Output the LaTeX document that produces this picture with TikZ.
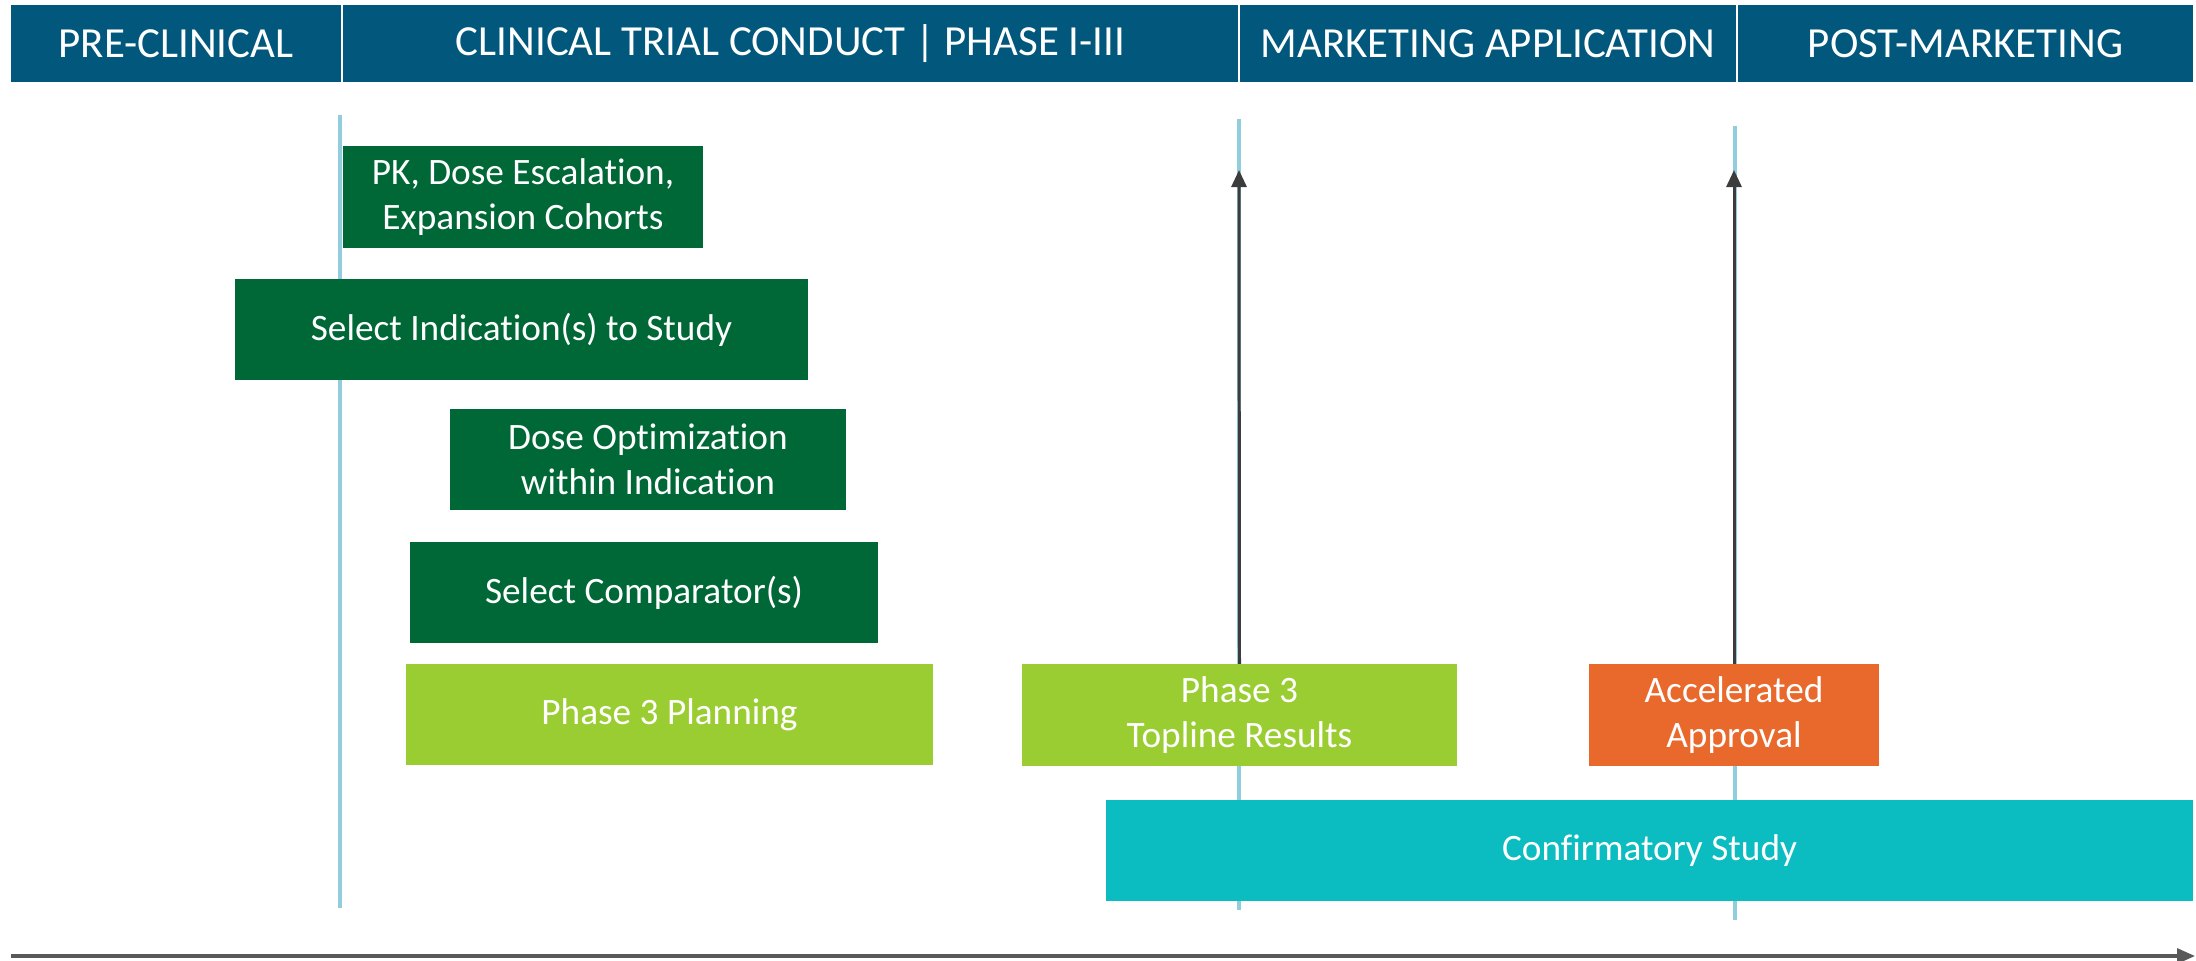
\documentclass[tikz,border=0pt]{standalone}
\usepackage{fontspec}
\setmainfont{Carlito}[Ligatures=NoCommon]
\usetikzlibrary{arrows.meta}

\definecolor{headblue}{RGB}{1,87,124}
\definecolor{darkgreen}{RGB}{0,104,55}
\definecolor{limegreen}{RGB}{154,205,50}
\definecolor{approvalorange}{RGB}{233,105,44}
\definecolor{confirmteal}{RGB}{11,188,193}
\definecolor{lineblue}{RGB}{146,205,221}
\definecolor{arrowgray}{RGB}{60,60,60}
\definecolor{axisgray}{RGB}{89,89,89}

\begin{document}
\begin{tikzpicture}[x=0.01cm,y=-0.01cm,
    head/.style={fill=headblue,inner sep=0pt,outer sep=0pt,text=white,
        font=\fontsize{12.2}{14}\selectfont},
    task/.style={inner sep=0pt,outer sep=0pt,text=white,align=center,
        font=\fontsize{10.6}{12.8}\selectfont},
    phaseline/.style={draw=lineblue,line width=0.9pt},
    uparrow/.style={draw=arrowgray,line width=0.85pt,-{Triangle[length=1.7mm,width=1.5mm]}}]

    \useasboundingbox (0,0) rectangle (2196,960);

    % box from corner (#2,#3) to corner (#4,#5), sizes in px of 0.1mm
    \newcommand{\blk}[7]{%
        \pgfmathsetmacro\cx{(#2+#4)/2}%
        \pgfmathsetmacro\cy{(#3+#5)/2}%
        \pgfmathsetmacro\bw{(#4-#2)/10}%
        \pgfmathsetmacro\bh{(#5-#3)/10}%
        \node[#6,minimum width=\bw mm,minimum height=\bh mm] (#1) at (\cx,\cy) {#7};
    }

    % header
    \blk{pre}{11}{5}{341}{82}{head}{PRE-CLINICAL}
    \blk{clin}{343}{5}{1238}{82}{head}{CLINICAL TRIAL CONDUCT | PHASE I-III}
    \blk{mkt}{1240}{5}{1736}{82}{head}{MARKETING APPLICATION}
    \blk{post}{1738}{5}{2193}{82}{head}{POST-MARKETING}

    % phase boundaries
    \draw[phaseline] (340,115) -- (340,908);
    \draw[phaseline] (1239,119) -- (1239,910);
    \draw[phaseline] (1735,126) -- (1735,920);

    \blk{pk}{343}{146}{703}{248}{task,fill=darkgreen}{PK, Dose Escalation,\\Expansion Cohorts}
    \blk{ind}{235}{279}{808}{380}{task,fill=darkgreen}{Select Indication(s) to Study}
    \blk{dose}{450}{409}{846}{510}{task,fill=darkgreen}{Dose Optimization\\within Indication}
    \blk{comp}{410}{542}{878}{643}{task,fill=darkgreen}{Select Comparator(s)}
    \blk{plan}{406}{664}{933}{765}{task,fill=limegreen}{Phase 3 Planning}
    \blk{topline}{1022}{664}{1457}{766}{task,fill=limegreen}{Phase 3\\Topline Results}
    \blk{accel}{1589}{664}{1879}{766}{task,fill=approvalorange}{Accelerated\\Approval}
    \blk{confirm}{1106}{800}{2193}{901}{task,fill=confirmteal}{Confirmatory Study}

    \coordinate (mktTip) at (1239,170);
    \coordinate (postTip) at (1734,170);
    \draw[uparrow] (topline.north) -- (mktTip);
    \draw[uparrow] (accel.north) -- (postTip);

    % time axis
    \coordinate (axisStart) at (11,956);
    \coordinate (axisEnd) at (2195,956);
    \draw[draw=axisgray,line width=0.9pt,-{Triangle[length=1.8mm,width=1.5mm]}] (axisStart) -- (axisEnd);

\end{tikzpicture}
\end{document}
